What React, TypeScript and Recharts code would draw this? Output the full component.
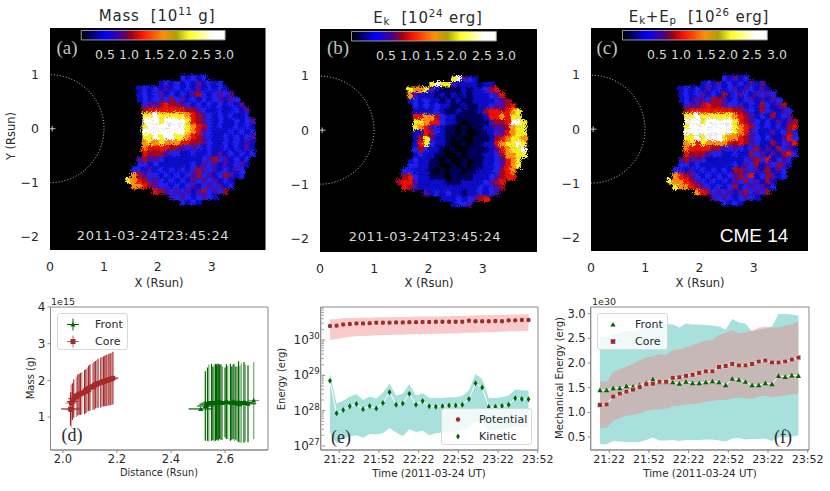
import React from 'react';
import {
  ScatterChart, ComposedChart, Scatter, Area, Line, XAxis, YAxis, ErrorBar,
  CartesianGrid, ReferenceArea, ReferenceDot, ReferenceLine,
} from 'recharts';

// image panels: one string per row of 0.1 Rsun cells, digit = colour level, '.' = no data
const rowYs = [0.95, 0.85, 0.75, 0.65, 0.55, 0.45, 0.35, 0.25, 0.15, 0.05, -0.05, -0.15, -0.25, -0.35, -0.45, -0.55, -0.65, -0.75, -0.85, -0.95, -1.05, -1.15, -1.25, -1.35];
const firstColX = 1.45;
const levelColors = ['#000000', '#000058', '#0c0cc8', '#2020f4', '#4c0ca8', '#a00828', '#f01000', '#ff8c10', '#f8f020', '#ffffff'];

const massRows = [
  '..........32323',
  '......232323242323',
  '..23232423232423232',
  '..232342323245323434',
  '..2323435342323234243',
  '...3445655432323232324',
  '...56666666554322322324',
  '...88988888765432323223',
  '...999899998654323223234',
  '...899999998765323223232',
  '...999999998764322232323',
  '...889899887654322323234',
  '...787877766554322323 42'.replace(' ', '2'),
  '...766665543432322323242',
  '...655543322322324232323',
  '..454432222222345342323',
  '..332322222232434242342',
  '.332423232323543423243',
  '.754332323234534235423',
  '87653432323243434232',
  '.7765433232342343423',
  '.....65434342453435',
  '........434323432',
  '..........3232',
];
const kineticRows = [
  '..........89432',
  '......898842222122',
  '..87784211112122356',
  '..742221212121222346',
  '..2323221212112222345',
  '...3232322112112234456',
  '...22223211211125665678',
  '...66775322111112667688',
  '...887663221011114556998',
  '...876432110101122445788',
  '...226532110100112346788',
  '...258422101001112567887',
  '...268322100101122678898',
  '...353221010011112467889',
  '...232211001011122357788',
  '..232211010010112234678',
  '..332211001010112234678',
  '.332221010110112223567',
  '.563221110111122234566',
  '56642222211122223456',
  '.6542222222222232345',
  '.....42323221223234',
  '........222323456',
  '..........2334',
];
const energyRows = [
  '..........32423',
  '......232423232424',
  '..23232423234243242',
  '..232342325234324343',
  '..2324435542323424243',
  '...3445655433423253245',
  '...56666666655432532243',
  '...88988888876542325234',
  '...999899999865432324245',
  '...899999999876532323256',
  '...999999999876432242353',
  '...889899987765432322463',
  '...786877776565432252346',
  '...766665543432352425342',
  '...655543322322534242563',
  '..454432222222345362343',
  '..332322222232435243542',
  '.332423232325543425243',
  '.765432323234536235423',
  '87765432323243534252',
  '.8776543232352343423',
  '.....76534342453435',
  '........434323432',
  '..........3232',
];
const colorbarTicks = ['0.5', '1.0', '1.5', '2.0', '2.5', '3.0'];

// (d) mass against distance
const coreDist = [2.028, 2.03, 2.03, 2.035, 2.04, 2.05, 2.055, 2.06, 2.065, 2.07, 2.08, 2.085, 2.09, 2.095, 2.1, 2.11, 2.115, 2.12, 2.125, 2.13, 2.14, 2.145, 2.15, 2.155, 2.16, 2.165, 2.17, 2.175, 2.18, 2.185];
const coreMass = [1.22, 1.2, 1.38, 1.42, 1.5, 1.55, 1.6, 1.62, 1.63, 1.65, 1.68, 1.7, 1.75, 1.78, 1.8, 1.82, 1.85, 1.88, 1.9, 1.92, 1.94, 1.96, 1.97, 1.98, 2.0, 2.0, 2.02, 2.03, 2.04, 2.06];
const coreMassErr = [0.45, 0.48, 0.5, 0.5, 0.52, 0.55, 0.56, 0.56, 0.57, 0.58, 0.6, 0.6, 0.6, 0.62, 0.63, 0.63, 0.65, 0.65, 0.66, 0.67, 0.68, 0.68, 0.68, 0.69, 0.7, 0.7, 0.7, 0.71, 0.71, 0.72];
const coreDistErr = [0.035, 0.02, 0.02, 0.02, 0.02, 0.02, 0.02, 0.02, 0.02, 0.02, 0.02, 0.02, 0.02, 0.02, 0.02, 0.02, 0.02, 0.02, 0.02, 0.02, 0.02, 0.02, 0.02, 0.02, 0.02, 0.02, 0.02, 0.02, 0.02, 0.02];
const coreFaded = [0, 1, 1, 0, 0, 1, 0, 0, 0, 1, 0, 0, 1, 0, 0, 1, 0, 0, 1, 0, 0, 1, 0, 0, 0, 1, 0, 0, 1, 0];

const frontDist = [2.51, 2.527, 2.535, 2.54, 2.55, 2.555, 2.56, 2.565, 2.568, 2.57, 2.572, 2.575, 2.58, 2.585, 2.59, 2.6, 2.605, 2.61, 2.62, 2.625, 2.63, 2.635, 2.64, 2.645, 2.65, 2.655, 2.66, 2.67, 2.675, 2.685, 2.706];
const frontMass = [1.22, 1.3, 1.35, 1.38, 1.4, 1.37, 1.38, 1.4, 1.4, 1.42, 1.38, 1.4, 1.42, 1.4, 1.38, 1.4, 1.42, 1.4, 1.4, 1.38, 1.42, 1.4, 1.38, 1.36, 1.42, 1.35, 1.38, 1.4, 1.38, 1.36, 1.45];
const frontMassErr = [0, 0.95, 1.0, 1.05, 1.05, 1.0, 1.05, 1.05, 1.02, 1.03, 1.0, 1.05, 1.02, 1.03, 1.0, 0.95, 1.02, 1.0, 1.05, 1.0, 1.02, 1.05, 1.0, 1.02, 1.1, 1.05, 1.08, 1.1, 1.05, 1.05, 1.05];
const frontDistErr = [0.045, 0.03, 0.03, 0.03, 0.03, 0.03, 0.03, 0.03, 0.03, 0.03, 0.03, 0.03, 0.03, 0.03, 0.03, 0.03, 0.03, 0.03, 0.03, 0.03, 0.03, 0.03, 0.03, 0.03, 0.03, 0.03, 0.03, 0.03, 0.03, 0.03, 0.02];
const frontFaded = [0, 0, 0, 1, 0, 0, 1, 0, 0, 0, 1, 0, 0, 0, 1, 0, 0, 1, 0, 0, 0, 1, 0, 1, 0, 1, 1, 0, 1, 0, 1];

// time axis: minutes after 21:00
const minutes = [15, 20, 25, 30, 35, 40, 45, 50, 55, 60, 65, 70, 75, 80, 85, 90, 95, 100, 105, 110, 115, 120, 125, 130, 135, 140, 145, 150, 155, 160, 165];
const timeTicks = [22, 52, 82, 112, 142, 172];
const timeLabels = ['21:22', '21:52', '22:22', '22:52', '23:22', '23:52'];

// (e) energy, log axis
const potential = [2.5e30, 2.55e30, 2.75e30, 2.85e30, 2.95e30, 2.95e30, 3.0e30, 3.1e30, 3.1e30, 3.1e30, 3.15e30, 3.15e30, 3.2e30, 3.2e30, 3.25e30, 3.25e30, 3.3e30, 3.3e30, 3.3e30, 3.3e30, 3.3e30, 3.5e30, 3.4e30, 3.4e30, 3.4e30, 3.45e30, 3.4e30, 3.6e30, 3.6e30, 3.7e30, 3.7e30];
const potentialHi = [3.85e30, 3.9e30, 4.1e30, 4.2e30, 4.2e30, 4.3e30, 4.3e30, 4.4e30, 4.4e30, 4.4e30, 4.5e30, 4.5e30, 4.5e30, 4.6e30, 4.6e30, 4.6e30, 4.6e30, 4.7e30, 4.7e30, 4.8e30, 4.8e30, 4.9e30, 5.0e30, 5.0e30, 5.0e30, 5.1e30, 5.1e30, 5.2e30, 5.3e30, 5.3e30, 5.45e30];
const potentialLo = [1.0e30, 1.07e30, 1.16e30, 1.24e30, 1.27e30, 1.3e30, 1.33e30, 1.36e30, 1.39e30, 1.39e30, 1.42e30, 1.42e30, 1.45e30, 1.45e30, 1.48e30, 1.48e30, 1.51e30, 1.51e30, 1.54e30, 1.54e30, 1.58e30, 1.61e30, 1.61e30, 1.65e30, 1.65e30, 1.69e30, 1.72e30, 1.76e30, 1.76e30, 1.8e30, 1.84e30];
const kinetic = [7.0e28, 8.4e27, 1.05e28, 1.33e28, 1.54e28, 1.09e28, 1.36e28, 1.16e28, 1.65e28, 3.3e28, 1.48e28, 1.6e28, 3.0e28, 1.48e28, 1.88e28, 1.33e28, 1.3e28, 1.33e28, 1.41e28, 1.39e28, 1.48e28, 2.14e28, 6.0e28, 4.5e28, 1.27e28, 1.3e28, 1.36e28, 1.48e28, 2.23e28, 2.14e28, 2.09e28];
const kineticHi = [1.14e29, 1.6e28, 1.9e28, 2.5e28, 2.9e28, 2.0e28, 2.5e28, 2.2e28, 3.2e28, 5.9e28, 2.7e28, 3.0e28, 5.6e28, 2.7e28, 3.1e28, 2.3e28, 2.3e28, 2.3e28, 2.4e28, 2.4e28, 2.6e28, 3.8e28, 1.09e29, 8.0e28, 2.3e28, 2.3e28, 2.4e28, 2.7e28, 4.0e28, 3.8e28, 3.7e28];
const kineticLo = [2.4e27, 1.2e27, 1.6e27, 1.9e27, 2.0e27, 1.7e27, 2.2e27, 2.1e27, 2.3e27, 3.2e27, 2.4e27, 1.9e27, 3.0e27, 2.5e27, 2.7e27, 2.0e27, 2.3e27, 2.4e27, 2.5e27, 2.6e27, 2.8e27, 3.5e27, 4.9e27, 4.4e27, 2.8e27, 2.8e27, 3.0e27, 3.2e27, 3.5e27, 3.4e27, 3.4e27];
const energyMajorTicks = [1e27, 1e28, 1e29, 1e30];
const energyMinorTicks = [2e27, 3e27, 4e27, 5e27, 6e27, 7e27, 8e27, 9e27, 2e28, 3e28, 4e28, 5e28, 6e28, 7e28, 8e28, 9e28, 2e29, 3e29, 4e29, 5e29, 6e29, 7e29, 8e29, 9e29, 2e30, 3e30, 4e30, 5e30, 6e30, 7e30, 8e30];

// (f) mechanical energy, units of 1e30
const mechFront = [1.45, 1.45, 1.49, 1.49, 1.53, 1.52, 1.55, 1.6, 1.67, 1.61, 1.61, 1.61, 1.58, 1.62, 1.59, 1.59, 1.61, 1.63, 1.61, 1.55, 1.68, 1.66, 1.62, 1.55, 1.55, 1.59, 1.57, 1.74, 1.72, 1.75, 1.74];
const mechFrontHi = [2.53, 2.53, 2.57, 2.6, 2.65, 2.64, 2.68, 2.75, 2.78, 2.78, 2.79, 2.78, 2.72, 2.8, 2.78, 2.78, 2.77, 2.76, 2.74, 2.68, 2.89, 2.82, 2.8, 2.64, 2.68, 2.7, 2.74, 2.99, 2.99, 2.98, 2.96];
const mechFrontLo = [0.36, 0.35, 0.42, 0.41, 0.4, 0.4, 0.4, 0.44, 0.49, 0.43, 0.43, 0.44, 0.42, 0.44, 0.44, 0.44, 0.45, 0.45, 0.43, 0.41, 0.47, 0.48, 0.45, 0.46, 0.46, 0.47, 0.42, 0.49, 0.5, 0.51, 0.53];
const mechCore = [1.15, 1.16, 1.32, 1.38, 1.42, 1.46, 1.51, 1.57, 1.58, 1.62, 1.62, 1.7, 1.71, 1.74, 1.76, 1.8, 1.83, 1.83, 1.92, 1.94, 1.98, 1.95, 1.95, 1.98, 2.03, 2.05, 2.01, 2.01, 2.03, 2.07, 2.11];
const mechCoreHi = [1.64, 1.61, 1.82, 1.88, 1.93, 1.98, 2.05, 2.11, 2.13, 2.18, 2.16, 2.26, 2.28, 2.32, 2.36, 2.41, 2.45, 2.47, 2.57, 2.61, 2.67, 2.6, 2.62, 2.66, 2.72, 2.74, 2.72, 2.72, 2.76, 2.78, 2.84];
const mechCoreLo = [0.68, 0.69, 0.83, 0.88, 0.93, 0.95, 0.98, 1.03, 1.06, 1.06, 1.08, 1.13, 1.14, 1.16, 1.17, 1.18, 1.22, 1.23, 1.25, 1.25, 1.28, 1.3, 1.28, 1.27, 1.32, 1.34, 1.3, 1.32, 1.34, 1.36, 1.37];

const BROWN = '#a52a2a';
const GREEN = '#006400';
const TEAL = '#a8e0dc';
const AXIS = '#8a8a8a';
const INK = '#2a2a2a';
const SANS = '"DejaVu Sans", sans-serif';
const SERIF = '"Liberation Serif", serif';

const heatCells = (rows: string[]) => {
  const cells: { x: number; y: number; level: number }[] = [];
  rows.forEach((row, r) => {
    row.split('').forEach((ch, c) => {
      if (ch !== '.') cells.push({ x: firstColX + c * 0.1, y: rowYs[r], level: Number(ch) });
    });
  });
  return cells;
};

const HeatCell = (props: any) => (
  <rect x={props.cx - 2.85} y={props.cy - 2.85} width={5.7} height={5.7} fill={levelColors[props.payload.level]} />
);

const Txt: React.FC<any> = ({ x, y, size = 10, color = INK, font = SANS, rotate = 0, spacing = 0, children }) => (
  <div style={{
    position: 'absolute', left: x, top: y, fontFamily: font, fontSize: size, color, letterSpacing: spacing,
    whiteSpace: 'pre', lineHeight: 1, transform: `translate(-50%,-50%) rotate(${rotate}deg)`,
  }}>{children}</div>
);

const sup = (t: string) => <span style={{ fontSize: '0.68em', verticalAlign: '0.55em', lineHeight: 0 }}>{t}</span>;
const sub = (t: string) => <span style={{ fontSize: '0.68em', verticalAlign: '-0.25em', lineHeight: 0 }}>{t}</span>;

const minusFmt = (v: number) => String(v).replace('-', '\u2212');

const ImagePanel: React.FC<any> = ({ rows, left, plotLeft, plotTop, plotW, plotH }) => {
  const cells = heatCells(rows);
  const gid = `bar${left}`;
  return (
    <div className="heat" style={{ position: 'absolute', left, top: 0 }}>
      <ScatterChart width={plotLeft + plotW + 4} height={plotTop + plotH + 24}
        margin={{ top: plotTop, right: 4, bottom: 0, left: 0 }}>
        <defs>
          <linearGradient id={gid} x1="0" y1="0" x2="1" y2="0">
            <stop offset="0" stopColor="#000000" />
            <stop offset="0.17" stopColor="#0000ff" />
            <stop offset="0.29" stopColor="#500080" />
            <stop offset="0.35" stopColor="#a00010" />
            <stop offset="0.42" stopColor="#ff1000" />
            <stop offset="0.57" stopColor="#ff9000" />
            <stop offset="0.66" stopColor="#b0a000" />
            <stop offset="0.75" stopColor="#ffff20" />
            <stop offset="0.92" stopColor="#ffffff" />
            <stop offset="1" stopColor="#ffffff" />
          </linearGradient>
          {/* breaks the square cells into the grain of the image */}
          <filter id="grain" x="-5%" y="-5%" width="110%" height="110%" colorInterpolationFilters="sRGB">
            <feTurbulence type="turbulence" baseFrequency="0.95" numOctaves="1" seed="7" result="n" />
            <feColorMatrix in="n" type="matrix" values="1 0 0 0 0.27  0 1 0 0 0.27  0 0 1 0 0  0 0 0 0 1" result="m" />
            <feDisplacementMap in="SourceGraphic" in2="m" scale="7" xChannelSelector="R" yChannelSelector="G" />
            <feGaussianBlur stdDeviation="0.35" />
          </filter>
        </defs>
        <CartesianGrid horizontal={false} vertical={false} fill="#000" />
        <XAxis type="number" dataKey="x" domain={[0, 4]} ticks={[0, 1, 2, 3]} allowDataOverflow interval={0}
          tickLine={false} axisLine={false} height={24} tick={{ fontSize: 12.5, fill: INK, fontFamily: SANS }} tickMargin={6} />
        <YAxis type="number" dataKey="y" domain={[-2.24, 1.86]} ticks={[-2, -1, 0, 1]} allowDataOverflow interval={0}
          tickLine={false} axisLine={false} width={plotLeft} tickFormatter={minusFmt}
          tick={{ fontSize: 12.5, fill: INK, fontFamily: SANS }} tickMargin={5} />
        <ReferenceDot x={0} y={0} r={54} fill="none" stroke="#d0d0d0" strokeWidth={1} strokeDasharray="1 2" ifOverflow="hidden" />
        <ReferenceLine segment={[{ x: 0, y: 0 }, { x: 0.1, y: 0 }]} stroke="#cccccc" strokeWidth={1} />
        <ReferenceLine segment={[{ x: 0.04, y: -0.05 }, { x: 0.04, y: 0.05 }]} stroke="#cccccc" strokeWidth={1} />
        <ReferenceArea x1={0.58} x2={3.25} y1={1.64} y2={1.815} fill={`url(#${gid})`} fillOpacity={1} stroke="#999" />
        <Scatter data={cells} shape={HeatCell} isAnimationActive={false} />
      </ScatterChart>
    </div>
  );
};

const Frame = ({ x, y }: any) => (
  <ReferenceArea x1={x[0]} x2={x[1]} y1={y[0]} y2={y[1]} fill="none" fillOpacity={0} stroke={AXIS} strokeWidth={1} ifOverflow="visible" />
);

const timeFmt = (v: number) => timeLabels[timeTicks.indexOf(v)];

const EnergyTick = ({ x, y, payload }: any) => {
  const major = energyMajorTicks.includes(payload.value);
  return (
    <g>
      <line x1={x + 1} x2={x + 1 + (major ? 3.5 : 2)} y1={y} y2={y} stroke={AXIS} />
      {major && (
        <text x={x - 1} y={y + 4} textAnchor="end" fontFamily={SANS} fontSize={12} fill={INK}>
          10<tspan dy={-5} fontSize={8.5}>{Math.round(Math.log10(payload.value))}</tspan>
        </text>
      )}
    </g>
  );
};

const diamond = (props: any) => (
  <path key={props.index} d={`M${props.cx} ${props.cy - 3}L${props.cx + 1.9} ${props.cy}L${props.cx} ${props.cy + 3}L${props.cx - 1.9} ${props.cy}Z`} fill={GREEN} />
);
const brownDot = (props: any) => <circle key={props.index} cx={props.cx} cy={props.cy} r={2.2} fill={BROWN} />;
const triangle = (props: any) => (
  <path key={props.index} d={`M${props.cx} ${props.cy - 2.6}L${props.cx + 2.6} ${props.cy + 2.1}L${props.cx - 2.6} ${props.cy + 2.1}Z`} fill={GREEN} />
);
const square = (props: any) => (
  <rect key={props.index} x={props.cx - 2.3} y={props.cy - 2.3} width={4.6} height={4.6} fill={BROWN} stroke="#e8e0e0" strokeWidth={0.5} />
);

const LegendBox: React.FC<any> = ({ x, y, w, h, items }) => (
  <div style={{
    position: 'absolute', left: x, top: y, width: w, height: h, boxSizing: 'border-box',
    background: 'rgba(255,255,255,0.8)', border: '1px solid #d8d8d8', borderRadius: 3,
  }}>
    {items.map((it: any, i: number) => (
      <div key={i} style={{ position: 'absolute', left: 0, top: 2 + i * 17, height: 17, width: w, display: 'flex', alignItems: 'center' }}>
        <svg width={it.textX} height={17} style={{ flex: 'none' }}>
          <g transform={`translate(${it.markX},8.5)`}>{it.mark}</g>
        </svg>
        <span style={{ fontFamily: SANS, fontSize: 11, color: INK }}>{it.label}</span>
      </div>
    ))}
  </div>
);

const crossMark = (color: string, body: React.ReactNode) => (
  <g>
    <line x1={-6} x2={6} y1={0} y2={0} stroke={color} />
    <line x1={0} x2={0} y1={-6} y2={6} stroke={color} />
    {body}
  </g>
);

const MassPanel = () => {
  const core = coreDist.map((x, i) => ({ x, y: coreMass[i], ey: coreMassErr[i], ex: coreDistErr[i], faded: coreFaded[i] }));
  const front = frontDist.map((x, i) => ({ x, y: frontMass[i], ey: frontMassErr[i], ex: frontDistErr[i], faded: frontFaded[i] }));
  const xDomain = [1.954, 2.759];
  const yDomain = [0.1, 4];
  const series = (data: any[], color: string, key: string, opacity: number, shape: any) => (
    <Scatter key={key} data={data} fill={color} fillOpacity={opacity} shape={shape} isAnimationActive={false}>
      <ErrorBar dataKey="ey" direction="y" width={0} stroke={color} strokeOpacity={opacity} strokeWidth={1.2} />
      <ErrorBar dataKey="ex" direction="x" width={0} stroke={color} strokeOpacity={opacity} strokeWidth={1.2} />
    </Scatter>
  );
  const marker = (color: string, triangleMark: boolean) => (props: any) => triangleMark
    ? <path d={`M${props.cx} ${props.cy - 2.5}L${props.cx + 2.5} ${props.cy + 2}L${props.cx - 2.5} ${props.cy + 2}Z`} fill={color} />
    : <rect x={props.cx - 2.3} y={props.cy - 2.3} width={4.6} height={4.6} fill={color} />;
  return (
    <div style={{ position: 'absolute', left: 0, top: 290 }}>
      <ScatterChart width={272} height={185} margin={{ top: 17, right: 4, bottom: 0, left: 0 }}>
        <XAxis type="number" dataKey="x" domain={xDomain} allowDataOverflow ticks={[2.0, 2.2, 2.4, 2.6]} interval={0}
          tickFormatter={(v: number) => v.toFixed(1)} height={25} stroke={AXIS} tickSize={3}
          tick={{ fontSize: 11.5, fill: INK, fontFamily: SANS }} />
        <YAxis type="number" dataKey="y" domain={yDomain} allowDataOverflow ticks={[1, 2, 3, 4]} interval={0}
          width={50.5} stroke={AXIS} tickSize={3} tick={{ fontSize: 12, fill: INK, fontFamily: SANS }} />
        {Frame({ x: xDomain, y: yDomain })}
        {series(front.filter(p => p.faded), '#6fa86f', 'fl', 1, marker(GREEN, true))}
        {series(front.filter(p => !p.faded), GREEN, 'fd', 1, marker(GREEN, true))}
        {series(core.filter(p => p.faded), '#cf8f8f', 'cl', 1, marker(BROWN, false))}
        {series(core.filter(p => !p.faded), BROWN, 'cd', 1, marker(BROWN, false))}
      </ScatterChart>
    </div>
  );
};

const EnergyPanel = () => {
  const data = minutes.map((m, i) => ({
    m, pot: potential[i], potBand: [potentialLo[i], potentialHi[i]], kin: kinetic[i], kinBand: [kineticLo[i], kineticHi[i]],
  }));
  const xDomain = [8, 172.2];
  const yDomain = [7.7e26, 8.6e30];
  return (
    <div style={{ position: 'absolute', left: 270, top: 290 }}>
      <ComposedChart width={290} height={185} data={data} margin={{ top: 17, right: 22, bottom: 0, left: 0 }}>
        <XAxis type="number" dataKey="m" domain={xDomain} allowDataOverflow ticks={timeTicks} interval={0}
          tickFormatter={timeFmt} height={25} stroke={AXIS} tickSize={3}
          tick={{ fontSize: 11, fill: INK, fontFamily: SANS }} />
        <YAxis scale="log" type="number" domain={yDomain} allowDataOverflow interval={0}
          ticks={[...energyMajorTicks, ...energyMinorTicks]} width={50.7} stroke={AXIS} tickLine={false} tick={<EnergyTick />} tickSize={0} tickMargin={0} />
        {Frame({ x: xDomain, y: yDomain })}
        <Area dataKey="kinBand" stroke="none" fill={TEAL} fillOpacity={1} dot={false} activeDot={false} isAnimationActive={false} />
        <Area dataKey="potBand" stroke="none" fill="#f08080" fillOpacity={0.42} dot={false} activeDot={false} isAnimationActive={false} />
        <Line dataKey="kin" stroke="#ffffff" strokeWidth={1} dot={diamond} activeDot={false} isAnimationActive={false} />
        <Line dataKey="pot" stroke="#ffffff" strokeWidth={1} dot={brownDot} activeDot={false} isAnimationActive={false} />
      </ComposedChart>
    </div>
  );
};

const MechPanel = () => {
  const data = minutes.map((m, i) => ({
    m, front: mechFront[i], frontBand: [mechFrontLo[i], mechFrontHi[i]], core: mechCore[i], coreBand: [mechCoreLo[i], mechCoreHi[i]],
  }));
  const xDomain = [8, 173];
  const yDomain = [0.237, 3.134];
  return (
    <div style={{ position: 'absolute', left: 540, top: 290 }}>
      <ComposedChart width={290} height={185} data={data} margin={{ top: 17, right: 21, bottom: 0, left: 0 }}>
        <XAxis type="number" dataKey="m" domain={xDomain} allowDataOverflow ticks={timeTicks} interval={0}
          tickFormatter={timeFmt} height={25} stroke={AXIS} tickSize={3}
          tick={{ fontSize: 11, fill: INK, fontFamily: SANS }} />
        <YAxis type="number" domain={yDomain} allowDataOverflow ticks={[0.5, 1, 1.5, 2, 2.5, 3]} interval={0}
          tickFormatter={(v: number) => v.toFixed(1)} width={50.7} stroke={AXIS} tickSize={3}
          tick={{ fontSize: 11.5, fill: INK, fontFamily: SANS }} />
        {Frame({ x: xDomain, y: yDomain })}
        <Area dataKey="frontBand" stroke="none" fill={TEAL} fillOpacity={1} dot={false} activeDot={false} isAnimationActive={false} />
        <Area dataKey="coreBand" stroke="none" fill="#f08080" fillOpacity={0.42} dot={false} activeDot={false} isAnimationActive={false} />
        <Line dataKey="front" stroke="#ffffff" strokeWidth={1} dot={triangle} activeDot={false} isAnimationActive={false} />
        <Line dataKey="core" stroke="#ffffff" strokeWidth={1} dot={square} activeDot={false} isAnimationActive={false} />
      </ComposedChart>
    </div>
  );
};

const barLabelXs = [[105, 129, 154, 177, 201, 224], [386, 410, 434, 457, 482, 506], [657, 681, 706, 728, 752, 777]];

export default function App() {
  return (
    <div style={{ position: 'absolute', left: 0, top: 0, width: 830, height: 491, background: '#fff', overflow: 'hidden' }}>
      <style>{'.heat .recharts-scatter{filter:url(#grain)}'}</style>
      <ImagePanel rows={massRows} left={0} plotLeft={50} plotTop={28} plotW={215.5} plotH={222} />
      <ImagePanel rows={kineticRows} left={270} plotLeft={50} plotTop={29} plotW={217} plotH={223} />
      <ImagePanel rows={energyRows} left={541} plotLeft={50} plotTop={28} plotW={217} plotH={223} />
      <MassPanel />
      <EnergyPanel />
      <MechPanel />

      <Txt x={157} y={16} size={15} spacing={0.8}>Mass  [10{sup('11')} g]</Txt>
      <Txt x={428} y={18} size={15} spacing={0.8}>E{sub('k')}  [10{sup('24')} erg]</Txt>
      <Txt x={699} y={17} size={15} spacing={0.8}>E{sub('k')}+E{sub('p')}  [10{sup('26')} erg]</Txt>

      {barLabelXs.map((xs, p) => xs.map((x, i) => (
        <Txt key={`${p}${i}`} x={x} y={[55, 56, 55][p]} size={12.5} color="#d8d8d8">{colorbarTicks[i]}</Txt>
      )))}
      <Txt x={67} y={47} size={19} font={SERIF} color="#c0c0c0">(a)</Txt>
      <Txt x={338} y={47} size={19} font={SERIF} color="#c0c0c0">(b)</Txt>
      <Txt x={607} y={47} size={19} font={SERIF} color="#c0c0c0">(c)</Txt>
      <Txt x={153} y={235} size={13} color="#d8d8d8" spacing={0.55}>2011-03-24T23:45:24</Txt>
      <Txt x={425} y={236} size={13} color="#d8d8d8" spacing={0.55}>2011-03-24T23:45:24</Txt>
      <Txt x={754} y={235} size={19} color="#ffffff" font='"Liberation Sans", sans-serif'>CME 14</Txt>

      <Txt x={12} y={136} size={11.5} rotate={-90}>Y (Rsun)</Txt>
      <Txt x={159} y={284} size={11.5}>X (Rsun)</Txt>
      <Txt x={429} y={284} size={11.5}>X (Rsun)</Txt>
      <Txt x={700} y={284} size={11.5}>X (Rsun)</Txt>

      <Txt x={31} y={378} size={10} rotate={-90}>Mass (g)</Txt>
      <Txt x={159} y={473} size={9.8}>Distance (Rsun)</Txt>
      <Txt x={282} y={379} size={10} rotate={-90}>Energy (erg)</Txt>
      <Txt x={429} y={473} size={10.3}>Time (2011-03-24 UT)</Txt>
      <Txt x={560} y={378} size={10} rotate={-90}>Mechanical Energy (erg)</Txt>
      <Txt x={700} y={473} size={10.3}>Time (2011-03-24 UT)</Txt>
      <Txt x={63} y={302} size={9.5}>1e15</Txt>
      <Txt x={604} y={302} size={9.5}>1e30</Txt>

      <LegendBox x={57} y={313} w={71} h={37} items={[
        { label: 'Front', textX: 37, markX: 15, mark: crossMark(GREEN, <path d="M0 -2.5L2.5 2L-2.5 2Z" fill={GREEN} />) },
        { label: 'Core', textX: 37, markX: 15, mark: crossMark('#c06060', <rect x={-2.5} y={-2.5} width={5} height={5} fill={BROWN} />) },
      ]} />
      <LegendBox x={441} y={408} w={91} h={37} items={[
        { label: 'Potential', textX: 37, markX: 16, mark: <circle r={2.2} fill={BROWN} /> },
        { label: 'Kinetic', textX: 37, markX: 16, mark: <path d="M0 -3L1.9 0L0 3L-1.9 0Z" fill={GREEN} /> },
      ]} />
      <LegendBox x={597} y={313} w={71} h={37} items={[
        { label: 'Front', textX: 37, markX: 15, mark: <path d="M0 -2.6L2.6 2.1L-2.6 2.1Z" fill={GREEN} /> },
        { label: 'Core', textX: 37, markX: 15, mark: <rect x={-2.3} y={-2.3} width={4.6} height={4.6} fill={BROWN} /> },
      ]} />

      <Txt x={72} y={435} size={18} font={SERIF}>(d)</Txt>
      <Txt x={341} y={437} size={18} font={SERIF}>(e)</Txt>
      <Txt x={783} y={437} size={18} font={SERIF}>(f)</Txt>
    </div>
  );
}
